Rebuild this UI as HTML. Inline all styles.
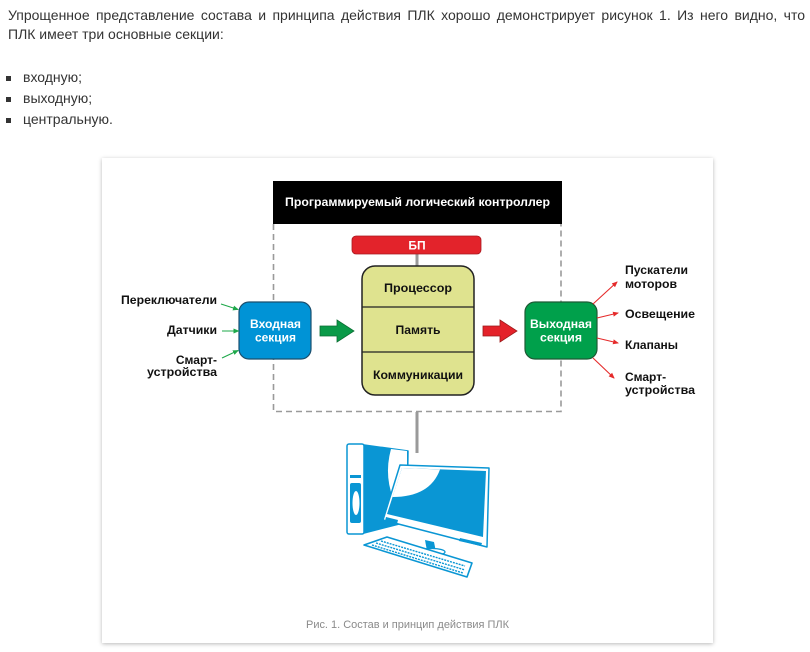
<!DOCTYPE html>
<html>
<head>
<meta charset="utf-8">
<style>
  html,body{margin:0;padding:0;background:#fff;}
  body{width:810px;height:652px;position:relative;overflow:hidden;font-family:"Liberation Sans","Noto Sans CJK SC",sans-serif;}
  .t{position:absolute;left:8px;font-size:14px;line-height:16px;color:#333;white-space:nowrap;}
  .j{width:797px;text-align:justify;text-align-last:justify;white-space:normal;}
  .b{position:absolute;left:6px;width:5px;height:5px;background:#333;}
  .card{position:absolute;left:102px;top:158px;width:611px;height:485px;background:#fff;box-shadow:0 1px 4px rgba(0,0,0,0.28);}
  svg{position:absolute;left:0;top:0;}
</style>
</head>
<body>
<div class="t j" style="top:7px;">Упрощенное представление состава и принципа действия ПЛК хорошо демонстрирует рисунок 1. Из него видно, что</div>
<div class="t" style="top:26px;">ПЛК имеет три основные секции:</div>

<div class="b" style="top:76px;"></div>
<div class="t" style="top:69px;left:23px;">входную;</div>
<div class="b" style="top:97px;"></div>
<div class="t" style="top:90px;left:23px;">выходную;</div>
<div class="b" style="top:118px;"></div>
<div class="t" style="top:111px;left:23px;">центральную.</div>

<div class="card"></div>

<svg width="810" height="652" viewBox="0 0 810 652" xmlns="http://www.w3.org/2000/svg">
  <defs>
    <marker id="ag" markerUnits="userSpaceOnUse" markerWidth="6" markerHeight="6" refX="5" refY="3" orient="auto">
      <path d="M0,0.5 L6,3 L0,5.5 Z" fill="#1ea84a"/>
    </marker>
    <marker id="ar" markerUnits="userSpaceOnUse" markerWidth="6" markerHeight="6" refX="5" refY="3" orient="auto">
      <path d="M0,0.5 L6,3 L0,5.5 Z" fill="#e52a2a"/>
    </marker>
  </defs>

  <!-- header -->
  <rect x="273" y="181" width="289" height="43" fill="#000"/>
  <text x="417.5" y="206" fill="#fff" font-family="Liberation Sans, sans-serif" font-weight="bold" font-size="12" text-anchor="middle" textLength="265" lengthAdjust="spacingAndGlyphs">Программируемый логический контроллер</text>

  <!-- dashed box -->
  <path d="M273.5,224 V411.5 H561 V224" fill="none" stroke="#9a9a9a" stroke-width="1.6" stroke-dasharray="6 4"/>

  <!-- БП -->
  <line x1="417" y1="254" x2="417" y2="266" stroke="#999" stroke-width="3"/>
  <rect x="352" y="236" width="129" height="18" rx="4" fill="#e3232b" stroke="#a81a20" stroke-width="0.8"/>
  <text x="417" y="249.5" fill="#fff" font-family="Liberation Sans, sans-serif" font-weight="bold" font-size="12" text-anchor="middle">БП</text>

  <!-- CPU block -->
  <rect x="362" y="266" width="112" height="129" rx="13" fill="#dfe38f" stroke="#222" stroke-width="1.5"/>
  <line x1="362.5" y1="307" x2="473.5" y2="307" stroke="#222" stroke-width="1.2"/>
  <line x1="362.5" y1="352" x2="473.5" y2="352" stroke="#222" stroke-width="1.2"/>
  <g font-family="Liberation Sans, sans-serif" font-weight="bold" font-size="12" fill="#111" text-anchor="middle">
    <text x="418" y="292" textLength="68" lengthAdjust="spacingAndGlyphs">Процессор</text>
    <text x="418" y="334" textLength="45" lengthAdjust="spacingAndGlyphs">Память</text>
    <text x="418" y="379" textLength="90" lengthAdjust="spacingAndGlyphs">Коммуникации</text>
  </g>

  <!-- input section -->
  <rect x="239" y="302" width="72" height="57" rx="10" fill="#0093d6" stroke="#1b4f6e" stroke-width="1.2"/>
  <g font-family="Liberation Sans, sans-serif" font-weight="bold" font-size="12" fill="#fff" text-anchor="middle">
    <text x="275.5" y="328" textLength="51" lengthAdjust="spacingAndGlyphs">Входная</text>
    <text x="275.5" y="341.5" textLength="41" lengthAdjust="spacingAndGlyphs">секция</text>
  </g>

  <!-- output section -->
  <rect x="525" y="302" width="72" height="57" rx="10" fill="#00a04b" stroke="#1e5a35" stroke-width="1.2"/>
  <g font-family="Liberation Sans, sans-serif" font-weight="bold" font-size="12" fill="#fff" text-anchor="middle">
    <text x="561" y="328" textLength="62" lengthAdjust="spacingAndGlyphs">Выходная</text>
    <text x="561" y="341.5" textLength="42" lengthAdjust="spacingAndGlyphs">секция</text>
  </g>

  <!-- big arrows -->
  <polygon points="320,326 337,326 337,320 354,331 337,342 337,336 320,336" fill="#0a9a48" stroke="#0b6e33" stroke-width="0.8"/>
  <polygon points="483,326 500,326 500,320 517,331 500,342 500,336 483,336" fill="#e4222a" stroke="#9a1a1a" stroke-width="0.8"/>

  <!-- left labels -->
  <g font-family="Liberation Sans, sans-serif" font-weight="bold" font-size="12" fill="#111" text-anchor="end">
    <text x="217" y="304" textLength="96" lengthAdjust="spacingAndGlyphs">Переключатели</text>
    <text x="217" y="334" textLength="50" lengthAdjust="spacingAndGlyphs">Датчики</text>
    <text x="217" y="364">Смарт-</text>
    <text x="217" y="376" textLength="70" lengthAdjust="spacingAndGlyphs">устройства</text>
  </g>
  <g stroke="#1ea84a" stroke-width="1.1" fill="none">
    <line x1="221" y1="304" x2="238" y2="309.5" marker-end="url(#ag)"/>
    <line x1="222" y1="331" x2="238.5" y2="331" marker-end="url(#ag)"/>
    <line x1="222" y1="358" x2="238" y2="350.5" marker-end="url(#ag)"/>
  </g>

  <!-- right labels -->
  <g font-family="Liberation Sans, sans-serif" font-weight="bold" font-size="12" fill="#111">
    <text x="625" y="274" textLength="63" lengthAdjust="spacingAndGlyphs">Пускатели</text>
    <text x="625" y="288" textLength="52" lengthAdjust="spacingAndGlyphs">моторов</text>
    <text x="625" y="318" textLength="70" lengthAdjust="spacingAndGlyphs">Освещение</text>
    <text x="625" y="349" textLength="53" lengthAdjust="spacingAndGlyphs">Клапаны</text>
    <text x="625" y="381">Смарт-</text>
    <text x="625" y="394" textLength="70" lengthAdjust="spacingAndGlyphs">устройства</text>
  </g>
  <g stroke="#e52a2a" stroke-width="1.1" fill="none">
    <line x1="593" y1="304" x2="617" y2="282" marker-end="url(#ar)"/>
    <line x1="597" y1="318" x2="618" y2="313" marker-end="url(#ar)"/>
    <line x1="597" y1="338" x2="618" y2="343" marker-end="url(#ar)"/>
    <line x1="593" y1="358" x2="614" y2="378" marker-end="url(#ar)"/>
  </g>

  <!-- connector to PC -->
  <line x1="417" y1="412" x2="417" y2="453" stroke="#9a9a9a" stroke-width="3"/>

  <!-- computer -->
  <g stroke-linejoin="round">
    <!-- tower side -->
    <polygon points="364,445 408,451 407,522 364,533" fill="#0a96d4" stroke="#0a96d4" stroke-width="1.5"/>
    <path d="M391,449 L407,451 L407,505 L396,505 Q383,478 391,449 Z" fill="#fff"/>
    <!-- tower front -->
    <rect x="347" y="444" width="17" height="90" rx="2" fill="#fff" stroke="#0a96d4" stroke-width="1.5"/>
    <rect x="350" y="475" width="11" height="3" fill="#0a96d4"/>
    <rect x="350" y="483" width="11" height="40" rx="2" fill="#0a96d4"/>
    <ellipse cx="356" cy="503" rx="3.5" ry="12" fill="#fff"/>
    <!-- monitor -->
    <polygon points="400,465 489,468 487,547 383,520" fill="#fff" stroke="#0a96d4" stroke-width="1.5"/>
    <polygon points="402,468 486,471 483,537 387,514" fill="#0a96d4"/>
    <path d="M402,468 L440,469.5 Q430,497 392.5,497 Z" fill="#fff"/>
    <polygon points="386,517 398,520 397,524 385,521" fill="#0a96d4"/>
    <polygon points="460,538 482,543 481,546 459,541" fill="#0a96d4"/>
    <!-- stand -->
    <polygon points="425,540 434,542 436,552 427,551" fill="#0a96d4"/>
    <ellipse cx="432" cy="552" rx="13" ry="3.5" fill="#fff" stroke="#0a96d4" stroke-width="1.3"/>
    <!-- keyboard -->
    <polygon points="387,537 472,563 467,577 364,545" fill="#fff" stroke="#0a96d4" stroke-width="1.6"/>
    <g stroke="#0a96d4" stroke-width="1.4" stroke-dasharray="2 1" fill="none">
      <line x1="381" y1="541" x2="465" y2="566"/>
      <line x1="376" y1="543" x2="465" y2="570"/>
      <line x1="372" y1="545" x2="463" y2="573"/>
    </g>
  </g>

  <!-- caption -->
  <text x="407.5" y="628" fill="#8a8a8a" font-family="Liberation Sans, sans-serif" font-size="11" text-anchor="middle" textLength="203" lengthAdjust="spacingAndGlyphs">Рис. 1. Состав и принцип действия ПЛК</text>
</svg>
</body>
</html>
